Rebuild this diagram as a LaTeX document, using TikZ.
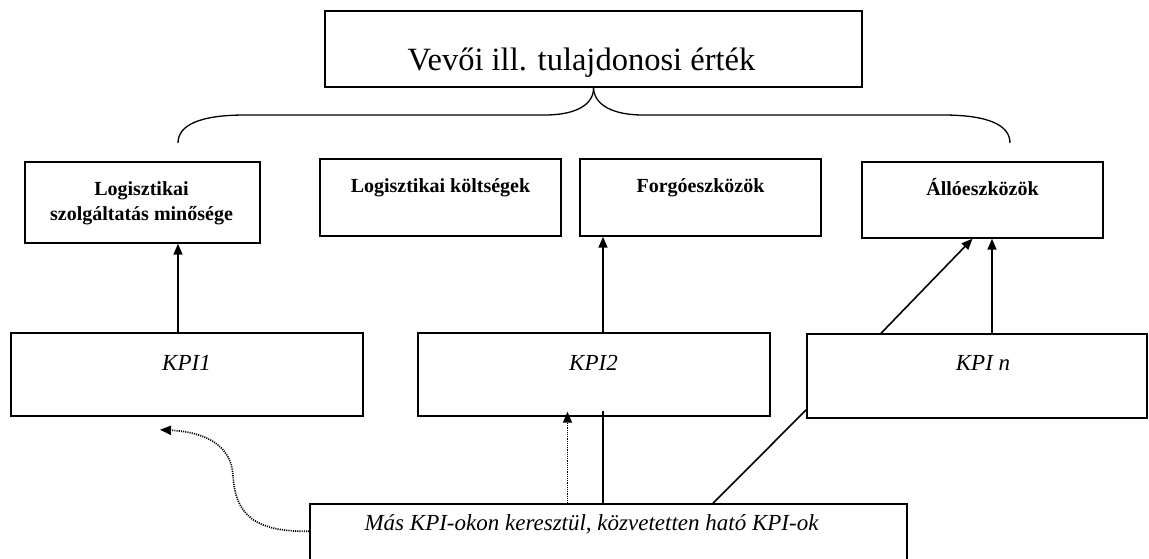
\documentclass[tikz,border=0pt]{standalone}
\usepackage{fontspec}
\setmainfont{Liberation Serif}
\usetikzlibrary{arrows.meta,calc}
\begin{document}
\begin{tikzpicture}[x=1pt,y=-1pt,
  frame/.style={draw, line width=1.4pt, inner sep=0pt},
  headtext/.style={anchor=base, inner sep=0pt, font=\fontsize{32.5}{38}\selectfont},
  boldtext/.style={anchor=base, inner sep=0pt, font=\bfseries\fontsize{20}{23}\selectfont},
  kpitext/.style={anchor=base, inner sep=0pt, font=\itshape\fontsize{23}{27}\selectfont},
  link/.style={line width=1.6pt},
  arr/.style={link, -{Triangle[length=11pt,width=9pt]}},
  dots/.style={line width=1.7pt, dash pattern=on 1.1pt off 1.1pt}
]
\useasboundingbox (0,0) rectangle (1149,558);

% value box on top
\node[frame, minimum width=537pt, minimum height=76pt] (title) at (593.5,49) {};
\node[headtext] (titletext) at (581.5,70) {Vevői ill. tulajdonosi érték};

% curly brace below the value box
\draw[line width=1.3pt] (title.south)
  .. controls (594,105) and (575,115) .. (545,115) -- (245,115)
  .. controls (200,115) and (178,125) .. (178,143);
\draw[line width=1.3pt] (title.south)
  .. controls (594,105) and (613,115) .. (643,115) -- (943,115)
  .. controls (988,115) and (1010,125) .. (1010,143);

% result areas
\node[frame, minimum width=235pt, minimum height=81pt] (quality) at (142.5,202.5) {};
\node[boldtext] (qualityA) at (141.5,195) {Logisztikai};
\node[boldtext] (qualityB) at (141.5,220) {szolgáltatás minősége};

\node[frame, minimum width=241pt, minimum height=77pt] (cost) at (440.5,197.5) {};
\node[boldtext] (costtext) at (440.5,192) {Logisztikai költségek};

\node[frame, minimum width=241pt, minimum height=77pt] (current) at (700.5,197.5) {};
\node[boldtext] (currenttext) at (700.5,192) {Forgóeszközök};

\node[frame, minimum width=241pt, minimum height=76pt] (fixed) at (982.5,200) {};
\node[boldtext] (fixedtext) at (982.5,195) {Állóeszközök};

% KPI boxes
\node[frame, minimum width=352pt, minimum height=83pt] (kpi1) at (187,374.5) {};
\node[kpitext] (kpi1text) at (186.5,370) {KPI1};

\node[frame, minimum width=352pt, minimum height=83pt] (kpi2) at (594,374.5) {};
\node[kpitext] (kpi2text) at (593.5,370) {KPI2};

\node[frame, minimum width=340pt, minimum height=84pt] (kpin) at (977,376) {};
\node[kpitext] (kpintext) at (983,370) {KPI \textit{n}};

% indirect KPIs
\node[frame, minimum width=597pt, minimum height=66pt] (more) at (608.5,537) {};
\node[kpitext] (moretext) at (591.5,530) {Más KPI-okon keresztül, közvetetten ható KPI-ok};

% KPI -> result area arrows
\draw[arr] ($(kpi1.north)+(-9,0)$) -- ($(kpi1.north |- quality.south)+(-9,0)$);
\draw[arr] ($(kpi2.north)+(9,0)$) -- ($(kpi2.north |- current.south)+(9,0)$);
\draw[arr] ($(kpin.north)+(15,0)$) -- ($(kpin.north |- fixed.south)+(15,0)$);
\draw[arr] ($(kpin.north)+(-96,0)$) -- ($(fixed.south)+(-10,0)$);

% links from the indirect KPIs
\draw[dots, -{Triangle[length=11pt,width=9pt]}] ($(more.north)+(-41,0)$) -- ($(more.north |- kpi2.south)+(-41,-5)$);
\draw[link] ($(more.north)+(-5.5,0)$) -- ($(more.north |- kpi2.south)+(-5.5,-6)$);
\draw[link] ($(more.north)+(104.5,0)$) -- ($(kpin.south west)+(0,-9)$);
\draw[dots, -{Triangle[length=11pt,width=9pt]}] ($(more.north west)+(0,28)$)
  .. controls (255,532) and (235,515) .. (233,475)
  .. controls (231,445) and (205,432) .. ($(kpi1.south)+(-27,13)$);
\end{tikzpicture}
\end{document}
